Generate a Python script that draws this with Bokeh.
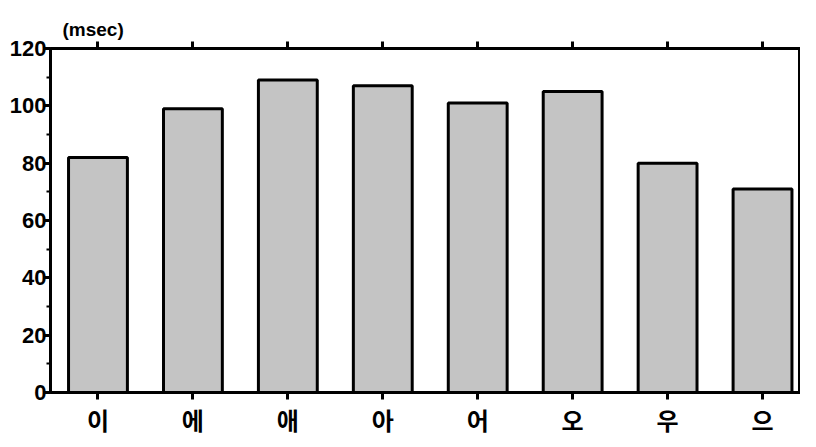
from bokeh.plotting import figure
from bokeh.embed import file_html
from bokeh.resources import INLINE
from bokeh.models import FixedTicker, LinearAxis, Range1d

vowels = ["이", "에", "애", "아", "어", "오", "우", "으"]
durations = [82, 99, 109, 107, 101, 105, 80, 71]
y_ticks = [0, 20, 40, 60, 80, 100, 120]
y_minor = [10, 30, 50, 70, 90, 110]

xs = [i + 0.5 for i in range(len(vowels))]

p = figure(width=800, height=439, output_backend="svg", toolbar_location=None,
           x_range=Range1d(0, 7.9), y_range=Range1d(0, 120), title="(msec)",
           min_border_left=50, min_border_top=48, min_border_bottom=42, min_border_right=0)
p.title.text_font = "Liberation Sans"
p.title.text_font_style = "bold"
p.title.text_font_size = "19px"
p.title.text_color = "black"
p.title.offset = 12
p.title.standoff = 4
p.grid.visible = False
p.outline_line_color = "black"
p.outline_line_width = 3

p.vbar(x=xs, top=durations, width=0.62, bottom=0, fill_color="#c4c4c4",
       hatch_pattern="checker", hatch_color="black", hatch_scale=3, hatch_alpha=0.35,
       line_color="black", line_width=3)

xa = p.xaxis[0]
xa.ticker = FixedTicker(ticks=xs)
xa.major_label_overrides = {x: v for x, v in zip(xs, vowels)}
xa.major_label_text_font = "Noto Sans CJK KR"
xa.major_label_text_font_style = "bold"
xa.major_label_text_font_size = "24px"
xa.major_label_standoff = 2

ya = p.yaxis[0]
ya.ticker = FixedTicker(ticks=y_ticks, minor_ticks=y_minor)
ya.major_label_text_font = "Liberation Sans"
ya.major_label_text_font_style = "bold"
ya.major_label_text_font_size = "22px"
ya.major_label_standoff = -3

top = LinearAxis(ticker=FixedTicker(ticks=xs), major_label_text_font_size="0px",
                 major_label_standoff=0)
p.add_layout(top, "above")

for ax in [xa, ya, top]:
    ax.axis_line_width = 3
    ax.axis_line_color = "black"
    ax.major_tick_line_width = 3
    ax.major_tick_in = 0
    ax.major_tick_out = 7
    ax.minor_tick_line_width = 2
    ax.minor_tick_in = 0
    ax.minor_tick_out = 4
    ax.major_label_text_color = "black"
xa.minor_tick_line_color = None
top.minor_tick_line_color = None

open("out.html", "w").write(file_html(p, INLINE))
